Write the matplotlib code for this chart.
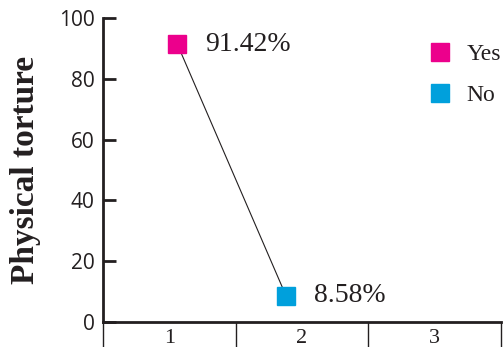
import matplotlib
matplotlib.use("Agg")
import matplotlib.pyplot as plt
from matplotlib.lines import Line2D

# Data
categories = ["Yes", "No"]
x_pos = [1.06, 1.88]
values = [91.42, 8.58]
colors = ["#EC008C", "#00A0DC"]
x_tick_labels = ["1", "2", "3"]
y_ticks = [0, 20, 40, 60, 80, 100]

ink = "#231F20"
fig = plt.figure(figsize=(5.04, 3.47), dpi=100)
ax = fig.add_axes([0.2044, 0.072, 0.7896, 0.876])

ax.plot(x_pos, values, color=ink, lw=0.8, zorder=2)
for x, v, c in zip(x_pos, values, colors):
    ax.plot([x], [v], marker="s", ms=12.5, color=c, mec=c, ls="none", zorder=3)
    ax.annotate(f"{v:.2f}%", (x, v), xytext=(20, 0), textcoords="offset points",
                va="center", ha="left", fontsize=20, family="Liberation Serif",
                color=ink)

ax.set_xlim(0.5, 3.5)
ax.set_ylim(0, 100)

for s in ["top", "right"]:
    ax.spines[s].set_visible(False)
for s in ["left", "bottom"]:
    ax.spines[s].set_linewidth(2)
    ax.spines[s].set_color(ink)

ax.set_yticks(y_ticks)
ax.set_yticklabels([str(t) for t in y_ticks], fontsize=15, family="Open Sans", color=ink)
ax.tick_params(axis="y", direction="in", length=9, width=2, color=ink, pad=6)

ax.set_xticks([0.5, 1.5, 2.5, 3.5])
ax.set_xticklabels([])
ax.tick_params(axis="x", which="major", direction="out", length=20, width=1, color=ink)
ax.set_xticks([1, 2, 3], minor=True)
ax.set_xticklabels(x_tick_labels, minor=True, fontsize=16, family="Liberation Serif", color=ink)
ax.tick_params(axis="x", which="minor", length=0, pad=5)

ax.set_ylabel("Physical torture", fontsize=24, family="Liberation Serif",
              fontweight="bold", color=ink, labelpad=13)

handles = [Line2D([], [], marker="s", ms=13, color=c, ls="none") for c in colors]
leg = ax.legend(handles, categories, loc="upper left", bbox_to_anchor=(0.81, 0.915),
                frameon=False, prop={"family": "Liberation Serif", "size": 17},
                handletextpad=0.55, handlelength=1.2, labelspacing=0.8,
                borderaxespad=0, borderpad=0)
for t in leg.get_texts():
    t.set_color(ink)

fig.savefig("out.png", dpi=100)
